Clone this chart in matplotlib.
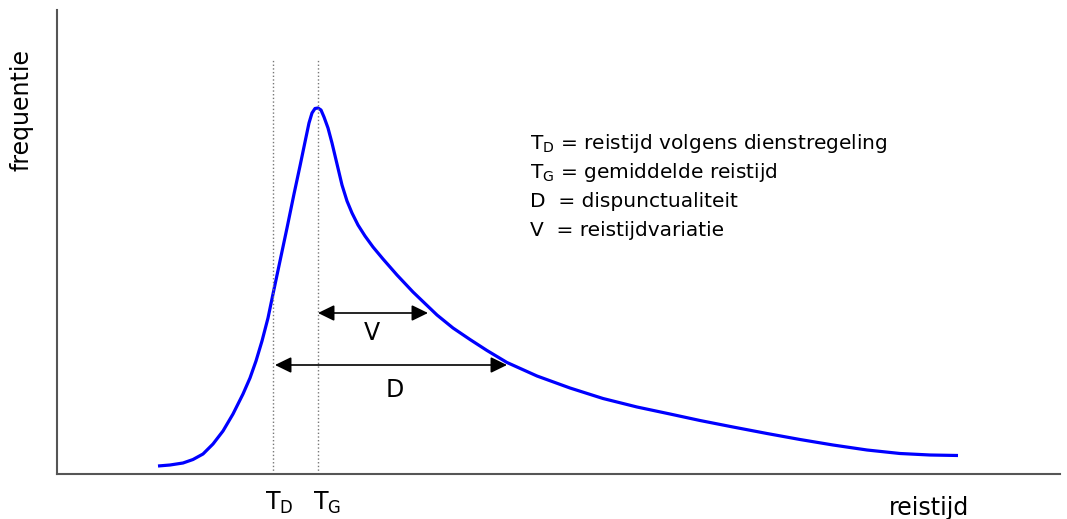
import matplotlib.pyplot as plt

# curve (reistijd, frequentie) in arbitrary units
reistijd = [101, 113, 126, 136, 146, 156, 166, 176, 186, 193, 199, 205, 211, 216,
            223, 230, 237, 243, 248, 252, 255, 258, 261, 264, 267, 271, 275,
            280, 285, 290, 295, 301, 308, 316, 326, 340, 356, 380, 396, 413,
            430, 450, 480, 513, 546, 580, 613, 643, 676, 710, 743, 776, 810,
            843, 873, 901]
frequentie = [8, 9, 11, 14.5, 20, 30, 43, 60, 80, 96, 113, 133, 156, 180,
              213, 246, 280, 308, 332, 351, 361, 365.5, 366, 364, 357, 346, 331,
              310, 289, 273, 261, 249, 238, 227, 215, 199, 182, 159, 146, 134.5,
              123.5, 111.5, 98, 86, 75.5, 67, 60, 53.5, 47, 40.5, 34.5, 29, 24,
              20.5, 19, 18.5]

T_D = 216
T_G = 261
V_end = 371
D_end = 450
V_level = 161
D_level = 109

legend_lines = [
    'T$_{\\mathregular{D}}$ = reistijd volgens dienstregeling',
    'T$_{\\mathregular{G}}$ = gemiddelde reistijd',
    'D  = dispunctualiteit',
    'V  = reistijdvariatie',
]

fig = plt.figure(figsize=(10.67, 5.19), dpi=100)
ax = fig.add_axes([57 / 1067, 45 / 519, 1003 / 1067, 464 / 519])
ax.set_xlim(0, 1003)
ax.set_ylim(0, 464)

ax.plot(reistijd, frequentie, color='#0000ff', lw=2.3,
        solid_capstyle='butt', solid_joinstyle='round')

# dotted markers for T_D and T_G
ax.vlines([T_D, T_G], 0, 414, colors='#777777', linestyles=':', lw=1)

arrow = dict(arrowstyle='<|-|>,head_length=0.45,head_width=0.22', color='black',
             lw=1.2, shrinkA=0, shrinkB=0, mutation_scale=22)
ax.annotate('', xy=(V_end, V_level), xytext=(T_G, V_level), arrowprops=arrow)
ax.annotate('', xy=(D_end, D_level), xytext=(T_D + 2, D_level), arrowprops=arrow)
ax.text(315, 141, 'V', fontsize=17, ha='center', va='center')
ax.text(338, 84, 'D', fontsize=17, ha='center', va='center')

for i, line in enumerate(legend_lines):
    ax.text(473, 325 - 29 * i, line, fontsize=14.5, ha='left', va='baseline')

ax.text(208, -36, 'T$_{\\mathregular{D}}$', fontsize=17, ha='left', va='baseline', clip_on=False)
ax.text(256, -36, 'T$_{\\mathregular{G}}$', fontsize=17, ha='left', va='baseline', clip_on=False)
ax.text(872, -34, 'reistijd', fontsize=17, ha='center', va='center', clip_on=False)
ax.text(-35, 364, 'frequentie', fontsize=17, rotation=90, ha='center', va='center', clip_on=False)

for side in ['top', 'right']:
    ax.spines[side].set_visible(False)
for side in ['left', 'bottom']:
    ax.spines[side].set_color('#555555')
    ax.spines[side].set_linewidth(1.5)
ax.set_xticks([])
ax.set_yticks([])

fig.savefig('out.png', dpi=100)
